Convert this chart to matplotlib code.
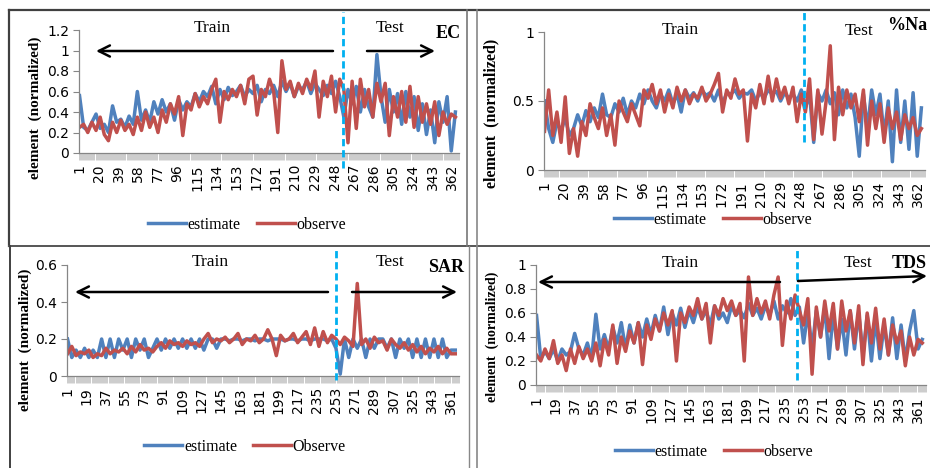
import numpy as np
import matplotlib.pyplot as plt
from matplotlib.lines import Line2D

# category index of every 4th sample (1..365) out of 368 records
N = 368
x = np.arange(1, 369, 4)

ec_est = [0.56, 0.25, 0.22, 0.30, 0.38, 0.24, 0.28, 0.20, 0.46, 0.30,
          0.33, 0.25, 0.36, 0.28, 0.60, 0.32, 0.42, 0.30, 0.50, 0.38,
          0.52, 0.40, 0.48, 0.32, 0.52, 0.42, 0.50, 0.45, 0.58, 0.50,
          0.60, 0.55, 0.65, 0.48, 0.62, 0.52, 0.64, 0.56, 0.60, 0.66,
          0.55, 0.62, 0.58, 0.66, 0.50, 0.62, 0.58, 0.66, 0.55, 0.70,
          0.60, 0.68, 0.55, 0.65, 0.62, 0.70, 0.58, 0.68, 0.62, 0.56,
          0.66, 0.58, 0.70, 0.55, 0.35, 0.62, 0.48, 0.65, 0.40, 0.62,
          0.45, 0.35, 0.96, 0.55, 0.30, 0.62, 0.40, 0.58, 0.28, 0.60,
          0.35, 0.55, 0.22, 0.48, 0.18, 0.42, 0.10, 0.50, 0.30, 0.55,
          0.02, 0.40]
ec_obs = [0.25, 0.28, 0.20, 0.30, 0.22, 0.35, 0.18, 0.12, 0.30, 0.20,
          0.32, 0.22, 0.28, 0.18, 0.35, 0.22, 0.40, 0.25, 0.35, 0.20,
          0.42, 0.30, 0.48, 0.38, 0.55, 0.17, 0.48, 0.42, 0.58, 0.45,
          0.55, 0.48, 0.62, 0.72, 0.30, 0.60, 0.52, 0.62, 0.55, 0.66,
          0.48, 0.72, 0.75, 0.37, 0.62, 0.55, 0.72, 0.60, 0.20, 0.90,
          0.62, 0.70, 0.55, 0.68, 0.58, 0.72, 0.62, 0.80, 0.35, 0.70,
          0.55, 0.75, 0.40, 0.72, 0.62, 0.10, 0.70, 0.24, 0.72, 0.45,
          0.62, 0.35, 0.68, 0.50, 0.68, 0.17, 0.55, 0.35, 0.60, 0.30,
          0.65, 0.25, 0.55, 0.30, 0.48, 0.28, 0.50, 0.17, 0.40, 0.28,
          0.38, 0.35]

na_est = [0.50, 0.30, 0.20, 0.35, 0.28, 0.38, 0.25, 0.30, 0.40, 0.32,
          0.43, 0.35, 0.45, 0.38, 0.55, 0.40, 0.38, 0.48, 0.42, 0.52,
          0.40, 0.50, 0.45, 0.55, 0.48, 0.58, 0.50, 0.45, 0.55, 0.50,
          0.58, 0.48, 0.55, 0.42, 0.58, 0.52, 0.56, 0.50, 0.58, 0.54,
          0.56, 0.50, 0.58, 0.48, 0.56, 0.55, 0.58, 0.52, 0.56, 0.55,
          0.58, 0.50, 0.56, 0.52, 0.58, 0.55, 0.57, 0.50, 0.56, 0.52,
          0.55, 0.50, 0.58, 0.45, 0.55, 0.20, 0.56, 0.50, 0.58, 0.48,
          0.56, 0.40, 0.58, 0.45, 0.55, 0.38, 0.10, 0.55, 0.30, 0.58,
          0.40, 0.55, 0.25, 0.50, 0.06, 0.58, 0.20, 0.50, 0.15, 0.56,
          0.10, 0.45]
na_obs = [0.28, 0.58, 0.25, 0.42, 0.20, 0.53, 0.12, 0.30, 0.10, 0.35,
          0.25, 0.48, 0.38, 0.30, 0.45, 0.25, 0.40, 0.18, 0.50, 0.42,
          0.35, 0.48, 0.40, 0.32, 0.58, 0.52, 0.62, 0.48, 0.58, 0.42,
          0.55, 0.45, 0.60, 0.50, 0.58, 0.48, 0.55, 0.52, 0.60, 0.50,
          0.55, 0.62, 0.70, 0.42, 0.58, 0.52, 0.66, 0.55, 0.58, 0.21,
          0.55, 0.45, 0.62, 0.48, 0.68, 0.50, 0.66, 0.52, 0.60, 0.48,
          0.60, 0.35, 0.55, 0.42, 0.66, 0.22, 0.58, 0.26, 0.50, 0.90,
          0.22, 0.60, 0.40, 0.58, 0.45, 0.55, 0.35, 0.58, 0.18, 0.50,
          0.30, 0.48, 0.20, 0.45, 0.30, 0.42, 0.22, 0.40, 0.30, 0.38,
          0.25, 0.30]

sar_est = [0.20, 0.10, 0.14, 0.10, 0.15, 0.10, 0.14, 0.10, 0.20, 0.10,
           0.20, 0.10, 0.20, 0.14, 0.20, 0.10, 0.20, 0.14, 0.20, 0.10,
           0.15, 0.20, 0.14, 0.20, 0.15, 0.20, 0.15, 0.20, 0.15, 0.20,
           0.15, 0.20, 0.14, 0.20, 0.20, 0.15, 0.20, 0.20, 0.19, 0.20,
           0.20, 0.19, 0.20, 0.20, 0.19, 0.20, 0.20, 0.19, 0.20, 0.20,
           0.20, 0.19, 0.20, 0.20, 0.19, 0.20, 0.20, 0.19, 0.20, 0.20,
           0.20, 0.19, 0.20, 0.15, 0.01, 0.20, 0.10, 0.20, 0.15, 0.20,
           0.10, 0.20, 0.15, 0.20, 0.20, 0.15, 0.20, 0.10, 0.20, 0.15,
           0.20, 0.10, 0.20, 0.10, 0.20, 0.10, 0.20, 0.10, 0.20, 0.10,
           0.14, 0.14]
sar_obs = [0.12, 0.16, 0.11, 0.13, 0.12, 0.14, 0.10, 0.12, 0.11, 0.15,
           0.12, 0.14, 0.13, 0.15, 0.12, 0.16, 0.13, 0.17, 0.14, 0.15,
           0.13, 0.16, 0.18, 0.15, 0.19, 0.17, 0.18, 0.16, 0.19, 0.17,
           0.18, 0.16, 0.20, 0.23, 0.18, 0.20, 0.19, 0.21, 0.18, 0.20,
           0.23, 0.17, 0.20, 0.19, 0.22, 0.18, 0.20, 0.25, 0.20, 0.11,
           0.22, 0.19, 0.20, 0.23, 0.18, 0.21, 0.24, 0.17, 0.26, 0.16,
           0.24, 0.18, 0.22, 0.20, 0.17, 0.21, 0.19, 0.16, 0.50, 0.17,
           0.20, 0.15, 0.21, 0.18, 0.19, 0.14, 0.20, 0.17, 0.15, 0.18,
           0.14, 0.17, 0.13, 0.16, 0.12, 0.15, 0.13, 0.16, 0.12, 0.15,
           0.12, 0.12]

tds_est = [0.58, 0.22, 0.28, 0.22, 0.30, 0.20, 0.30, 0.25, 0.28, 0.43,
           0.30, 0.25, 0.35, 0.22, 0.59, 0.30, 0.42, 0.30, 0.48, 0.35,
           0.52, 0.30, 0.50, 0.35, 0.52, 0.40, 0.55, 0.42, 0.58, 0.45,
           0.65, 0.42, 0.60, 0.50, 0.64, 0.48, 0.62, 0.52, 0.65, 0.55,
           0.62, 0.50, 0.66, 0.55, 0.60, 0.52, 0.66, 0.58, 0.62, 0.56,
           0.68, 0.58, 0.64, 0.55, 0.66, 0.58, 0.70, 0.55, 0.66, 0.60,
           0.72, 0.58, 0.65, 0.35, 0.60, 0.30, 0.62, 0.40, 0.65, 0.22,
           0.60, 0.30, 0.55, 0.25, 0.62, 0.30, 0.60, 0.25, 0.58, 0.20,
           0.55, 0.22, 0.50, 0.25, 0.56, 0.22, 0.50, 0.20, 0.45, 0.62,
           0.30, 0.38]
tds_obs = [0.25, 0.20, 0.30, 0.22, 0.37, 0.18, 0.25, 0.12, 0.30, 0.18,
           0.32, 0.22, 0.30, 0.20, 0.35, 0.16, 0.38, 0.25, 0.50, 0.18,
           0.40, 0.28, 0.45, 0.35, 0.52, 0.17, 0.50, 0.38, 0.55, 0.45,
           0.60, 0.50, 0.62, 0.20, 0.60, 0.52, 0.65, 0.58, 0.72, 0.55,
           0.68, 0.35, 0.66, 0.58, 0.72, 0.62, 0.70, 0.58, 0.68, 0.20,
           0.90, 0.58, 0.72, 0.60, 0.70, 0.55, 0.75, 0.90, 0.33, 0.70,
           0.55, 0.75, 0.62, 0.50, 0.72, 0.09, 0.65, 0.40, 0.70, 0.45,
           0.68, 0.30, 0.70, 0.45, 0.62, 0.35, 0.66, 0.17, 0.60, 0.35,
           0.64, 0.30, 0.55, 0.25, 0.50, 0.35, 0.45, 0.16, 0.40, 0.25,
           0.38, 0.35]

BLUE = '#4F81BD'
RED = '#C0504D'
CYAN = '#00B0F0'
GRAY = '#868686'
SERIF = 'Liberation Serif'

W, H = 930, 468
fig = plt.figure(figsize=(W / 100, H / 100), dpi=100)


def fx(px):
    return px / W


def fy(py):
    return 1 - py / H


def panel(box, est, obs, obs_label, ymax, ystep, lab_step, split, dash, legend_at):
    left, right, top, bottom = box
    ax = fig.add_axes([fx(left), fy(bottom), (right - left) / W, (bottom - top) / H])
    ax.plot(x, est, color=BLUE, lw=2.5, label='estimate')
    ax.plot(x, obs, color=RED, lw=2.5, label=obs_label)
    ax.set_xlim(0.5, N + 0.5)
    ax.set_ylim(0, ymax)
    for s in ['top', 'right']:
        ax.spines[s].set_visible(False)
    for s in ['left', 'bottom']:
        ax.spines[s].set_color(GRAY)
        ax.spines[s].set_linewidth(0.9)

    yt = np.arange(0, ymax + 1e-9, ystep)
    ax.set_yticks(yt)
    ax.set_yticklabels(['{:g}'.format(round(v, 2)) for v in yt])
    ax.tick_params(axis='y', direction='out', length=4, color=GRAY, labelsize=10, pad=3)

    xt = np.arange(1, N + 1, lab_step)
    ax.set_xticks(xt)
    ax.set_xticklabels([str(v) for v in xt], rotation=90)
    ax.set_xticks(np.arange(0.5, N + 1, 1), minor=True)
    ax.tick_params(axis='x', which='major', length=0, labelsize=10, pad=8)
    ax.tick_params(axis='x', which='minor', direction='out', length=5, color='#b0b0b0', width=0.45)

    lo = (bottom - dash[1]) / (bottom - top)
    hi = (bottom - dash[0]) / (bottom - top)
    ax.axvline(split, lo, hi, color=CYAN, lw=2, ls=(0, (2.6, 1.4)), clip_on=False, zorder=5)

    ax.legend(loc='center', bbox_to_anchor=(fx(legend_at[0]), fy(legend_at[1])),
              bbox_transform=fig.transFigure, ncol=2, frameon=False,
              prop={'family': SERIF, 'size': 11.5}, handlelength=2.4,
              handletextpad=0.1, columnspacing=1.0)
    return ax


panel((79, 459, 30, 153), ec_est, ec_obs, 'observe', 1.2, 0.2, 19, 256, (12, 168), (247, 225))
panel((544, 925, 32, 170), na_est, na_obs, 'observe', 1.0, 0.5, 19, 252, (12, 142), (713, 220))
panel((67, 459, 265, 376), sar_est, sar_obs, 'Observe', 0.6, 0.2, 18, 253, (247, 380), (245, 447))
panel((536, 926, 265, 385), tds_est, tds_obs, 'observe', 1.0, 0.2, 18, 247, (248, 380), (714, 452))

# y labels
for cx, cy, fs in [(35, 108, 11), (491, 113, 11.5), (25, 340, 11), (492, 337, 10)]:
    fig.text(fx(cx), fy(cy), 'element  (normalized)', rotation=90, ha='center', va='center',
             family=SERIF, fontweight='bold', fontsize=fs)

# Train / Test labels
for cx, cy in [(212, 28), (680, 30), (210, 262), (680, 263)]:
    fig.text(fx(cx), fy(cy), 'Train', ha='center', va='center', family=SERIF, fontsize=12.5)
for cx, cy in [(390, 28), (859, 31), (390, 262), (858, 263)]:
    fig.text(fx(cx), fy(cy), 'Test', ha='center', va='center', family=SERIF, fontsize=12.5)

# element names (the right-hand ones sit tight against the figure edge)
for name, rx, cy in [('EC', 461, 33), ('%Na', 927, 26), ('SAR', 464, 267), ('TDS', 927, 263)]:
    fig.text(fx(rx), fy(cy), name, ha='right', va='center', family=SERIF,
             fontweight='bold', fontsize=13)

# arrows
arrows = [((333, 51), (96, 51)), ((367, 51), (435, 51)),
          ((328, 292), (75, 292)), ((352, 292), (457, 292)),
          ((780, 282), (538, 282)), ((798, 281), (927, 276))]
for tail, head in arrows:
    fig.add_artist(plt.Annotation('', xy=(fx(head[0]), fy(head[1])),
                                  xytext=(fx(tail[0]), fy(tail[1])),
                                  xycoords='figure fraction', textcoords='figure fraction',
                                  arrowprops=dict(arrowstyle='->', lw=1.8, color='black',
                                                  mutation_scale=20, shrinkA=0, shrinkB=0)))

# panel frames
frames = [((9, 930), (10, 10), '#404040', 1.6), ((9, 9), (10, 246), '#404040', 1.6),
          ((9, 930), (246, 246), '#555555', 1.4), ((467, 467), (10, 246), '#777777', 1.2),
          ((477, 477), (10, 468), '#888888', 1.2), ((10, 10), (246, 468), '#404040', 1.4),
          ((469, 469), (246, 468), '#888888', 1.0)]
for xs, ys, c, lw in frames:
    fig.add_artist(Line2D([fx(v) for v in xs], [fy(v) for v in ys],
                          transform=fig.transFigure, color=c, lw=lw))

fig.savefig('out.png', dpi=100)
